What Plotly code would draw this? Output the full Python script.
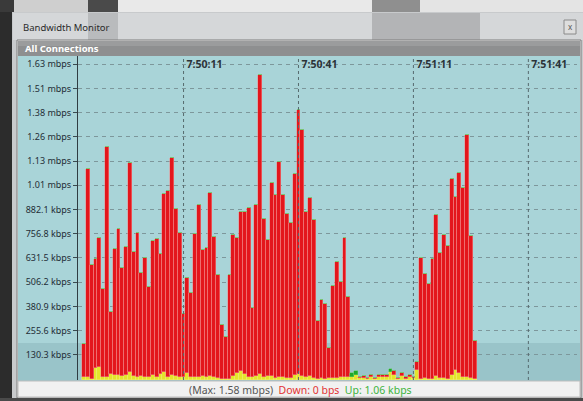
import plotly.graph_objects as go

# ---------------- data ----------------
# one sample per second; offset in seconds from 7:50:11
sample_offsets = list(range(-26, 77))

down_kbps = [
    186, 1092, 595, 627, 732, 471, 1205, 354, 676, 783, 578, 687, 1120, 663, 762,
    552, 632, 481, 720, 731, 654, 964, 978, 1146, 884,
    763, 341, 530, 452, 757, 905, 671, 685, 969, 742, 542, 285, 223, 542, 750,
    737, 871, 871, 888, 375, 904, 1577, 832, 725, 1018,
    957, 1128, 959, 857, 811, 1064, 1396, 1291, 869, 940, 828, 306, 413, 392, 165,
    485, 613, 506, 737, 427,
    14, 28, 17, 19, 10, 28, 9, 28, 28, 24, 40, 45, 10, 34, 17, 28, 14, 94,
    632, 547, 498, 624, 854, 657, 750, 692, 1038, 949, 1069, 995, 1267, 743, 201,
]

up_kbps = [
    14, 14, 6, 60, 66, 18, 18, 31, 25, 25, 20, 25, 40, 20, 16, 20, 16, 18, 25, 14,
    31, 40, 16, 27, 20,
    14, 14, 36, 14, 14, 18, 22, 14, 22, 16, 10, 5, 3, 5, 22, 36, 45, 31, 14, 14,
    22, 31, 14, 22, 22,
    12, 14, 16, 12, 12, 26, 33, 22, 16, 19, 12, 7, 9, 7, 12, 10, 12, 14, 14, 16,
    34, 48, 9, 9, 5, 14, 5, 17, 17, 14, 57, 28, 5, 19, 5, 14, 9, 54,
    7, 9, 7, 7, 21, 12, 9, 7, 24, 50, 34, 14, 14, 12, 4,
]

y_tick_vals = [130.3, 255.6, 380.9, 506.2, 631.5, 756.8, 882.1,
               1007.4, 1132.7, 1258.0, 1383.3, 1508.6, 1633.9]
y_tick_text = ["130.3 kbps", "255.6 kbps", "380.9 kbps", "506.2 kbps",
               "631.5 kbps", "756.8 kbps", "882.1 kbps", "1.01 mbps",
               "1.13 mbps", "1.26 mbps", "1.38 mbps", "1.51 mbps", "1.63 mbps"]

x_tick_vals = [0, 30, 60, 90]
x_tick_text = ["7:50:11", "7:50:41", "7:51:11", "7:51:41"]

window_title = "Bandwidth Monitor"
panel_title = "All Connections"
status_max = "(Max: 1.58 mbps)"
status_down = "Down: 0 bps"
status_up = "Up: 1.06 kbps"

# ---------------- derived ----------------
overlap = [min(d, u) for d, u in zip(down_kbps, up_kbps)]
down_only = [d - m for d, m in zip(down_kbps, overlap)]
up_only = [u - m for u, m in zip(up_kbps, overlap)]

W, H = 583, 401
L, R, T, B = 78, 6, 56, 21
PW, PH = W - L - R, H - T - B
X_RANGE = [-27.55, 102.7]


def px(x):
    return (x - L) / PW


def py(y):
    return (H - B - y) / PH


def rect(x0, y0, x1, y1, fill, line=None, lw=0, layer="below"):
    return dict(type="rect", xref="paper", yref="paper",
                x0=px(x0), x1=px(x1), y0=py(y1), y1=py(y0),
                fillcolor=fill, line=dict(color=line or fill, width=lw),
                layer=layer)


FONT = "Noto Sans, Open Sans, DejaVu Sans, sans-serif"

fig = go.Figure()
fig.add_trace(go.Bar(x=sample_offsets, y=overlap, name="both",
                     marker=dict(color="#e4e42c", line=dict(color="#eeee70", width=0.5)),
                     hoverinfo="skip"))
fig.add_trace(go.Bar(x=sample_offsets, y=down_only, name="Down",
                     marker=dict(color="#e3161c", line=dict(color="#f28a8a", width=0.5)),
                     hoverinfo="skip"))
fig.add_trace(go.Bar(x=sample_offsets, y=up_only, name="Up",
                     marker=dict(color="#1fa82a", line=dict(color="#60cc60", width=0.5)),
                     hoverinfo="skip"))
# carrier for the time-label axis
fig.add_trace(go.Scatter(x=x_tick_vals, y=[None] * len(x_tick_vals), xaxis="x2",
                         mode="markers", showlegend=False, hoverinfo="skip"))

shapes = [
    # top strip (blurred desktop behind)
    rect(0, 0, 583, 12, "#cfcfcf"),
    rect(0, 0, 14, 12, "#3a3a3a"),
    rect(88, 0, 118, 12, "#4a4a4a"),
    rect(118, 0, 372, 12, "#e9e9e9"),
    rect(372, 0, 420, 12, "#8f8f8f"),
    rect(420, 0, 583, 12, "#e4e4e4"),
    # left dark edge
    rect(0, 12, 12, 401, "#2c2c2c"),
    # window frame / title bar
    rect(12, 12, 583, 401, "#c8cacc"),
    rect(13, 13, 583, 40, "#d5d7d9"),
    rect(88, 13, 118, 40, "rgba(60,60,60,0.18)"),
    rect(372, 13, 480, 40, "rgba(60,60,60,0.22)"),
    # inner panel
    rect(17, 40, 581, 398, "#e6e6e6", "#7c7c7c", 1),
    rect(18, 41, 580, 56, "#8e8f90"),
    rect(18, 41, 580, 46, "rgba(255,255,255,0.12)"),
    # chart background
    rect(18, 56, 580, 381, "#a9d4d8"),
    rect(18, 343, 580, 381, "rgba(20,60,70,0.10)"),
    # status bar
    rect(18, 381, 580, 397, "#f1f1f1", "#bdbdbd", 1),
    rect(0, 398, 583, 401, "#4a4a4a"),
    # close button
    rect(564, 20, 576, 34, "#dedede", "#8a8a8a", 1),
]

# vertical dotted time gridlines, drawn above bars as in the original
for tv in x_tick_vals:
    shapes.append(dict(type="line", xref="x", yref="paper", x0=tv, x1=tv, y0=0, y1=1,
                       line=dict(color="#566a6e", width=1, dash="dot"), layer="above"))

annotations = [
    dict(text=window_title, xref="paper", yref="paper", x=px(21), y=py(27),
         xanchor="left", yanchor="middle", showarrow=False,
         font=dict(family=FONT, size=9.5, color="#2a2a2a")),
    dict(text="x", xref="paper", yref="paper", x=px(570), y=py(26.5),
         xanchor="center", yanchor="middle", showarrow=False,
         font=dict(family=FONT, size=8, color="#555555")),
    dict(text="<b>" + panel_title + "</b>", xref="paper", yref="paper", x=px(23), y=py(48.5),
         xanchor="left", yanchor="middle", showarrow=False,
         font=dict(family=FONT, size=9.5, color="#ffffff")),
    dict(text=(status_max + "  <span style='color:#e23434'>" + status_down +
               "</span>  <span style='color:#3db43d'>" + status_up + "</span>"),
         xref="paper", yref="paper", x=px(300), y=py(390),
         xanchor="center", yanchor="middle", showarrow=False,
         font=dict(family=FONT, size=10.5, color="#555555")),
]

fig.update_layout(
    width=W, height=H,
    margin=dict(l=L, r=R, t=T, b=B, pad=0),
    paper_bgcolor="#2e2e2e",
    plot_bgcolor="rgba(0,0,0,0)",
    barmode="stack", bargap=0,
    showlegend=False,
    shapes=shapes,
    annotations=annotations,
    xaxis=dict(range=X_RANGE, showticklabels=False, ticks="",
               showgrid=False, zeroline=False, showline=False),
    xaxis2=dict(range=X_RANGE, overlaying="x", anchor="free", position=py(70),
                side="top", tickmode="array",
                tickvals=x_tick_vals, ticktext=x_tick_text,
                ticklabelposition="outside right", ticklabelshift=3,
                ticks="", showgrid=False, zeroline=False, showline=False,
                tickfont=dict(family=FONT, size=10.5, color="#2b3338", weight="bold")),
    yaxis=dict(range=[0, 1676], tickmode="array",
               tickvals=y_tick_vals, ticktext=y_tick_text,
               ticks="outside", ticklen=4, tickcolor="#3a4a50", tickwidth=1,
               showgrid=True, gridcolor="#7d979b", griddash="4px,4px", gridwidth=1,
               zeroline=False, showline=True, linecolor="#2f3c42", linewidth=1,
               tickfont=dict(family=FONT, size=9, color="#1f2d36")),
)

fig.write_html("out.html", config={"displayModeBar": False},
               post_script="document.body.style.margin='0';")
